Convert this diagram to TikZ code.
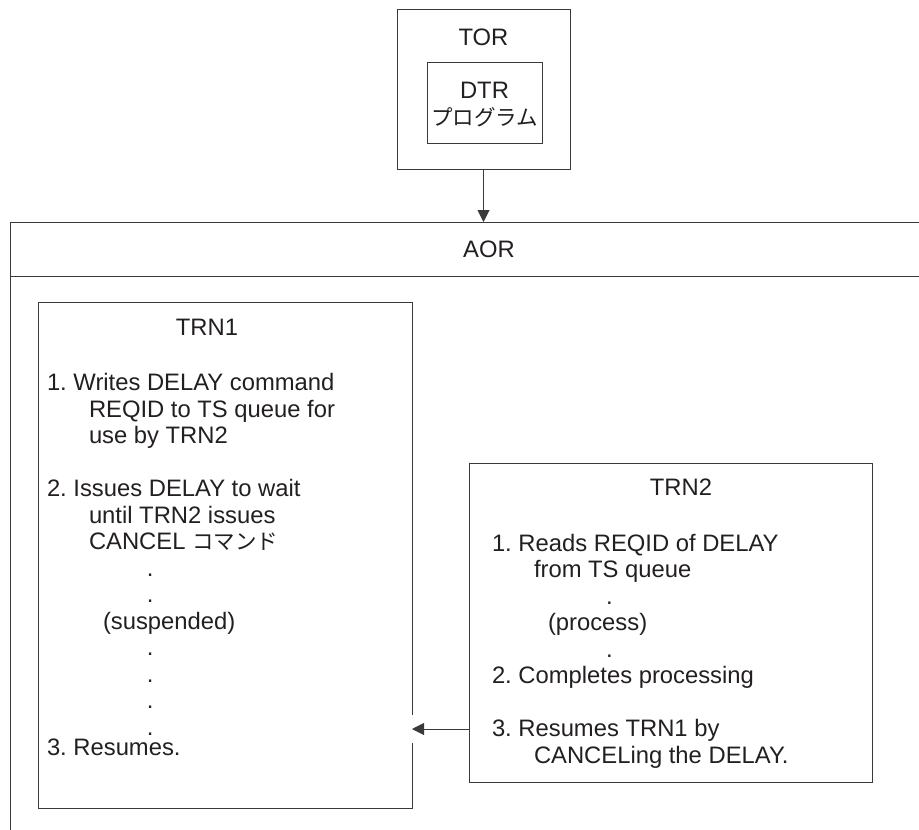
\documentclass[tikz,border=0pt]{standalone}
\usepackage{fontspec}
\setmainfont{Liberation Sans}
\newfontfamily\cjk{Noto Sans CJK JP}
\usetikzlibrary{arrows.meta,positioning}
\definecolor{dline}{HTML}{3A3A3A}
\definecolor{dtext}{HTML}{231F20}
\newcommand{\indt}{\hspace*{42pt}}
\newcommand{\jp}[1]{{\cjk\fontsize{21.5}{26.5}\selectfont #1}}
\frenchspacing

\begin{document}
\begin{tikzpicture}[x=1pt,y=-1pt,every node/.style={font=\fontsize{23.8}{26.5}\selectfont,text=dtext,inner sep=0pt,outer sep=0pt},frame/.style={draw=dline,line width=1pt},txt/.style={anchor=base},body/.style={anchor=base west,align=left},arr/.style={-{Triangle[length=12pt,width=12pt]},dline,line width=1pt}]
\useasboundingbox (0,0) rectangle (919,830);
% TOR side (multi-line nodes sit on their last baseline)
\node[frame,minimum width=173,minimum height=160] (tor) at (483.5,89) {};
\node[frame,minimum width=115,minimum height=81] (dtr) at (484.5,102.5) {};
\node[txt] (torlbl) at (483.5,45.5) {TOR};
\node[txt,align=center] (dtrlbl) at (484.5,125) {DTR\\\jp{プログラム}};
% AOR frame
\coordinate (aortl) at (10,222);
\coordinate (aortr) at (919,222);
\coordinate (aorml) at (10,276);
\coordinate (aormr) at (919,276);
\coordinate (aorbl) at (10,830);
\draw[frame] (aortr) -- (aortl) -- (aorbl);
\draw[frame] (aorml) -- (aormr);
\node[txt] (aor) at (489,257.5) {AOR};
\draw[arr] (tor.south) -- (tor.south |- aortl);
% TRN1
\node[minimum width=374,minimum height=506] (trn1) at (225,555) {};
\draw[frame] (trn1.east |- 0,715) -- (trn1.north east) -- (trn1.north west) -- (trn1.south west) -- (trn1.south east) -- (trn1.east |- 0,743);
\node[txt] (trn1lbl) at (207,335.5) {TRN1};
\node[body] (trn1txt) at (47,755) {1. Writes DELAY command\\\indt REQID to TS queue for\\\indt use by TRN2\\[26.5pt]2. Issues DELAY to wait\\\indt until TRN2 issues\\\indt CANCEL \jp{コマンド}\\\hspace*{100pt}.\\\hspace*{100pt}.\\\hspace*{56pt}(suspended)\\\hspace*{100pt}.\\\hspace*{100pt}.\\\hspace*{100pt}.\\\hspace*{100pt}.\\[-6.5pt]3. Resumes.};
% TRN2
\node[frame,minimum width=403,minimum height=319] (trn2) at (670.5,622.5) {};
\node[txt] (trn2lbl) at (681,495.5) {TRN2};
\node[body] (trn2txt) at (492,763) {1. Reads REQID of DELAY\\\indt from TS queue\\\hspace*{114pt}.\\\hspace*{56pt}(process)\\\hspace*{114pt}.\\2. Completes processing\\[26.5pt]3. Resumes TRN1 by\\\indt CANCELing the DELAY.};
\draw[arr] (trn2.west |- 0,729) -- (trn1.east |- 0,729);
\end{tikzpicture}
\end{document}
